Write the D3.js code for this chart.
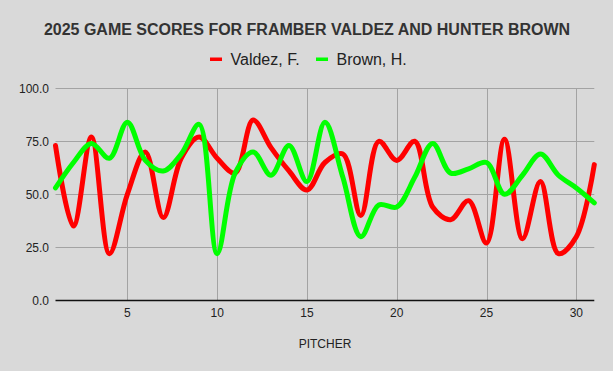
<!DOCTYPE html>
<html><head><meta charset="utf-8">
<script src="https://cdn.jsdelivr.net/npm/d3@7"></script>
<style>
html,body{margin:0;padding:0;background:#d9d9d9;}
svg{display:block;font-family:"Liberation Sans",Arial,sans-serif;}
</style></head>
<body><svg id="c" width="613" height="371"></svg>
<script>
const games = d3.range(1, 32);
const valdez = [73,35,77,22,50,70,39,67,77,67,60,85,72,61,52,65,69,40,75,66,75,44,38,47,27,76,29,56,22,30,64];
const brown  = [53,65,74,67,84,66,61,69,83,22,60,70,59,73,56,84,58,30,45,44,58,74,60,62,65,50,59,69,59,53,46];
const seriesNames = ["Valdez, F.", "Brown, H."];
const seriesColors = ["#ff0000", "#00ff00"];
const yTicks = [0, 25, 50, 75, 100];
const xTicks = [5, 10, 15, 20, 25, 30];
const title = "2025 GAME SCORES FOR FRAMBER VALDEZ AND HUNTER BROWN";
const xTitle = "PITCHER";

const svg = d3.select("#c");
const x = d3.scaleLinear().domain([1, 31]).range([55.5, 594.3]);
const y = d3.scaleLinear().domain([0, 100]).range([300.3, 88.3]);

svg.append("rect").attr("width",613).attr("height",371).attr("fill","#d9d9d9");

// gridlines
const g = svg.append("g");
g.selectAll(".hg").data(yTicks.filter(d=>d>0)).join("line")
  .attr("x1", x(1)).attr("x2", x(31))
  .attr("y1", d=>Math.round(y(d))+0.5).attr("y2", d=>Math.round(y(d))+0.5)
  .attr("stroke","#a3a3a3").attr("stroke-width",1);
g.selectAll(".vg").data(xTicks).join("line")
  .attr("x1", d=>Math.round(x(d))+0.5).attr("x2", d=>Math.round(x(d))+0.5)
  .attr("y1", y(100)).attr("y2", y(0))
  .attr("stroke","#a3a3a3").attr("stroke-width",1);

// y labels
g.selectAll(".yl").data(yTicks).join("text")
  .attr("x", 49).attr("y", d=>y(d)).attr("dy","0.35em")
  .attr("text-anchor","end").attr("font-size",12).attr("fill","#222")
  .text(d=>d3.format(".1f")(d));
// x labels
g.selectAll(".xl").data(xTicks).join("text")
  .attr("x", d=>x(d)).attr("y", 313).attr("dy","0.35em")
  .attr("text-anchor","middle").attr("font-size",12).attr("fill","#222")
  .text(d=>d);
// baseline
g.append("line").attr("x1", x(1)).attr("x2", x(31))
  .attr("y1", Math.round(y(0))+0.5).attr("y2", Math.round(y(0))+0.5)
  .attr("stroke","#111").attr("stroke-width",1.5);

// x title
svg.append("text").attr("x", 325).attr("y", 344).attr("dy","0.35em")
  .attr("text-anchor","middle").attr("font-size",12).attr("fill","#222").text(xTitle);

// lines
const line = d3.line().x((d,i)=>x(games[i])).y(d=>y(d)).curve(d3.curveCatmullRom.alpha(0.5));
[valdez, brown].forEach((s,k)=>{
  svg.append("path").attr("d", line(s)).attr("fill","none")
    .attr("stroke", seriesColors[k]).attr("stroke-width",5)
    .attr("stroke-linejoin","round").attr("stroke-linecap","round");
});

// title
svg.append("text").attr("x", 307).attr("y", 29).attr("dy","0.35em")
  .attr("text-anchor","middle").attr("font-size",16).attr("font-weight","bold")
  .attr("fill","#333").text(title);

// legend
const legX = [210, 316];
seriesNames.forEach((n,k)=>{
  svg.append("rect").attr("x", legX[k]).attr("y", 57.5).attr("width",12).attr("height",3.5)
    .attr("fill", seriesColors[k]);
  svg.append("text").attr("x", legX[k]+20.5).attr("y", 59).attr("dy","0.35em")
    .attr("font-size",16).attr("fill","#222").text(n);
});
</script></body></html>
